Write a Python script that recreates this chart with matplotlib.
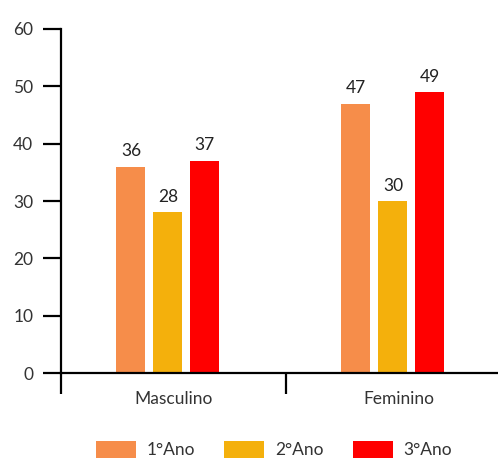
import numpy as np
import matplotlib.pyplot as plt

plt.rcParams['font.family'] = ['Lato', 'DejaVu Sans']

categories = ['Masculino', 'Feminino']
series = ['1°Ano', '2°Ano', '3°Ano']
values = [
    [36, 47],   # 1°Ano
    [28, 30],   # 2°Ano
    [37, 49],   # 3°Ano
]
colors = ['#F68D4A', '#F4B00C', '#FF0000']
y_ticks = [0, 10, 20, 30, 40, 50, 60]

fig = plt.figure(figsize=(4.98, 4.66), dpi=100)
ax = fig.add_axes([61 / 498, 93 / 466, 450 / 498, 344 / 466])

x = np.arange(len(categories))
width = 0.129
step = 0.164
shift = -0.025

for i, (name, vals, col) in enumerate(zip(series, values, colors)):
    pos = x + shift + (i - 1) * step
    bars = ax.bar(pos, vals, width, color=col, label=name)
    for b, v in zip(bars, vals):
        ax.text(b.get_x() + b.get_width() / 2, v + 1.3, str(v),
                ha='center', va='bottom', fontsize=12.5, color='#222222')

ax.set_xlim(-0.5, 1.5)
ax.set_ylim(0, 60)
ax.set_yticks(y_ticks)
ax.set_xticks(x)
ax.set_xticklabels(categories)
ax.set_xticks([-0.5, 0.5, 1.5], minor=True)

for s in ['top', 'right']:
    ax.spines[s].set_visible(False)
for s in ['left', 'bottom']:
    ax.spines[s].set_linewidth(1.6)
    ax.spines[s].set_color('black')

ax.tick_params(axis='y', length=13, width=1.6, pad=7, labelsize=12.5, labelcolor='#333333')
ax.tick_params(axis='x', which='major', length=0, pad=13, labelsize=12.5, labelcolor='#333333')
ax.tick_params(axis='x', which='minor', length=15, width=1.6)

fig.legend(loc='upper center', bbox_to_anchor=(0.55, 0.088), ncol=3, frameon=False,
           fontsize=12.5, handlelength=2.3, handleheight=1.2, columnspacing=1.7,
           handletextpad=0.6, labelcolor='#333333')

fig.savefig('out.png', dpi=100)
